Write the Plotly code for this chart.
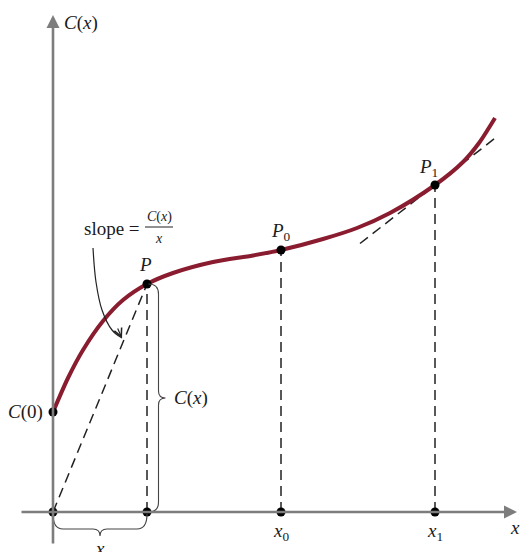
import plotly.graph_objects as go

# ---- data (1 unit = 10 px) ----
curve_x = [0, 1.5, 3.0, 5.0, 7.0, 9.4, 12.0, 16.0, 20.0, 22.8, 27.0, 30.4, 33.7, 38.2, 41.0, 42.6, 44.2]
curve_y = [10.0, 13.4, 16.2, 19.1, 21.2, 22.8, 23.9, 25.0, 25.65, 26.2, 27.3, 28.4, 29.9, 32.7, 35.0, 36.9, 39.4]

point_labels = ["<i>P</i>", "<i>P</i><sub>0</sub>", "<i>P</i><sub>1</sub>"]
point_x = [9.4, 22.8, 38.2]
point_y = [22.8, 26.2, 32.7]
axis_labels = ["", "<i>x</i><sub>0</sub>", "<i>x</i><sub>1</sub>"]
c0_value = 10.0

tangent_slope = 0.78
tangent_span = [-7.5, 6.0]

arrow_x = [4.0, 4.3, 4.9, 5.9, 6.9]
arrow_y = [26.4, 23.0, 20.2, 18.2, 17.4]

# ---- styles ----
FONT = "Liberation Serif"
RED = "#8a1c30"
GRAY = "#7d7d7d"
DASH = "10px,6px"

fig = go.Figure()

# dashed line from origin to P
fig.add_trace(go.Scatter(x=[0, point_x[0]], y=[0, point_y[0]], mode="lines",
                         line=dict(color="#222", width=1.5, dash=DASH), hoverinfo="skip"))
# vertical dashed lines
for px_, py_ in zip(point_x, point_y):
    fig.add_trace(go.Scatter(x=[px_, px_], y=[0, py_], mode="lines",
                             line=dict(color="#222", width=1.5, dash=DASH), hoverinfo="skip"))
# tangent at P1
tx = [point_x[2] + d for d in tangent_span]
ty = [point_y[2] + tangent_slope * d for d in tangent_span]
fig.add_trace(go.Scatter(x=tx, y=ty, mode="lines",
                         line=dict(color="#222", width=1.5, dash=DASH), hoverinfo="skip"))

# curve
fig.add_trace(go.Scatter(x=curve_x, y=curve_y, mode="lines",
                         line=dict(color=RED, width=4, shape="spline", smoothing=0.8),
                         hoverinfo="skip"))

# slope arrow curve
fig.add_trace(go.Scatter(x=arrow_x, y=arrow_y, mode="lines",
                         line=dict(color="#222", width=1.2, shape="spline"), hoverinfo="skip"))

# dots
dots_x = [0, 0] + point_x + point_x
dots_y = [0, c0_value] + point_y + [0, 0, 0]
fig.add_trace(go.Scatter(x=dots_x, y=dots_y, mode="markers",
                         marker=dict(color="black", size=9), hoverinfo="skip"))

ann = []
# axes as arrows
ann.append(dict(x=0, y=49.7, ax=0, ay=-3.3, xref="x", yref="y", axref="x", ayref="y",
                showarrow=True, arrowhead=2, arrowsize=1, arrowwidth=2.6, arrowcolor=GRAY, text=""))
ann.append(dict(x=46.4, y=0, ax=-3.3, ay=0, xref="x", yref="y", axref="x", ayref="y",
                showarrow=True, arrowhead=2, arrowsize=1, arrowwidth=2.6, arrowcolor=GRAY, text=""))
# slope arrowhead
ann.append(dict(x=arrow_x[-1], y=arrow_y[-1], ax=arrow_x[-2] + 0.5, ay=arrow_y[-2] + 0.3,
                xref="x", yref="y", axref="x", ayref="y", showarrow=True, arrowhead=5,
                arrowsize=1.3, arrowwidth=1.2, arrowcolor="#222", text="", standoff=0))

def label(x, y, text, size=19, xanchor="center", yanchor="middle"):
    ann.append(dict(x=x, y=y, xref="x", yref="y", text=text, showarrow=False,
                    xanchor=xanchor, yanchor=yanchor,
                    font=dict(family=FONT, size=size, color="#1a1a1a")))

label(0.9, 48.9, "<i>C</i>(<i>x</i>)", xanchor="left")
label(-0.8, c0_value, "<i>C</i>(0)", xanchor="right")
label(point_x[0] - 0.2, point_y[0] + 2.0, point_labels[0])
label(point_x[1], point_y[1] + 1.8, point_labels[1])
label(point_x[2] - 0.7, point_y[2] + 1.7, point_labels[2])
label(point_x[1], -0.6, axis_labels[1], yanchor="top")
label(point_x[2], -0.6, axis_labels[2], yanchor="top")
label(46.2, -1.5, "<i>x</i>", xanchor="center")
label(point_x[0] / 2, -3.6, "<i>x</i>", yanchor="middle")
label(11.9, point_y[0] / 2, "<i>C</i>(<i>x</i>)", xanchor="left")
# slope = C(x)/x
label(8.9, 28.4, "slope =", size=19, xanchor="right")
label(10.6, 29.5, "<i>C</i>(<i>x</i>)", size=14)
label(10.6, 27.4, "<i>x</i>", size=14)

shapes = []
shapes.append(dict(type="line", x0=9.2, x1=12.0, y0=28.5, y1=28.5, xref="x", yref="y",
                   line=dict(color="#222", width=1)))

# braces
def vbrace(x, y0, y1, w=1.0, tip=0.7):
    ym = (y0 + y1) / 2
    xb = x + w
    return (f"M {x},{y1} Q {xb},{y1} {xb},{y1-1.0} L {xb},{ym+0.7} "
            f"Q {xb},{ym} {xb+tip},{ym} Q {xb},{ym} {xb},{ym-0.7} "
            f"L {xb},{y0+1.0} Q {xb},{y0} {x},{y0}")

def hbrace(x0, x1, y, h=1.5, tip=0.7):
    xm = (x0 + x1) / 2
    yb = y - h
    return (f"M {x0},{y} Q {x0},{yb} {x0+1.0},{yb} L {xm-0.7},{yb} "
            f"Q {xm},{yb} {xm},{yb-tip} Q {xm},{yb} {xm+0.7},{yb} "
            f"L {x1-1.0},{yb} Q {x1},{yb} {x1},{y}")

shapes.append(dict(type="path", path=vbrace(point_x[0] + 0.15, 0, point_y[0]),
                   xref="x", yref="y", line=dict(color="#444", width=1.1)))
shapes.append(dict(type="path", path=hbrace(0, point_x[0], -0.2),
                   xref="x", yref="y", line=dict(color="#444", width=1.1)))

fig.update_layout(
    width=525, height=552, autosize=False,
    margin=dict(l=0, r=0, t=0, b=0),
    paper_bgcolor="white", plot_bgcolor="white",
    showlegend=False,
    xaxis=dict(range=[-5.3, 47.2], visible=False, fixedrange=True),
    yaxis=dict(range=[-4.0, 51.2], visible=False, fixedrange=True),
    annotations=ann, shapes=shapes,
)

fig.write_html("out.html", post_script="document.body.style.margin='0';",
               config={"displayModeBar": False})
